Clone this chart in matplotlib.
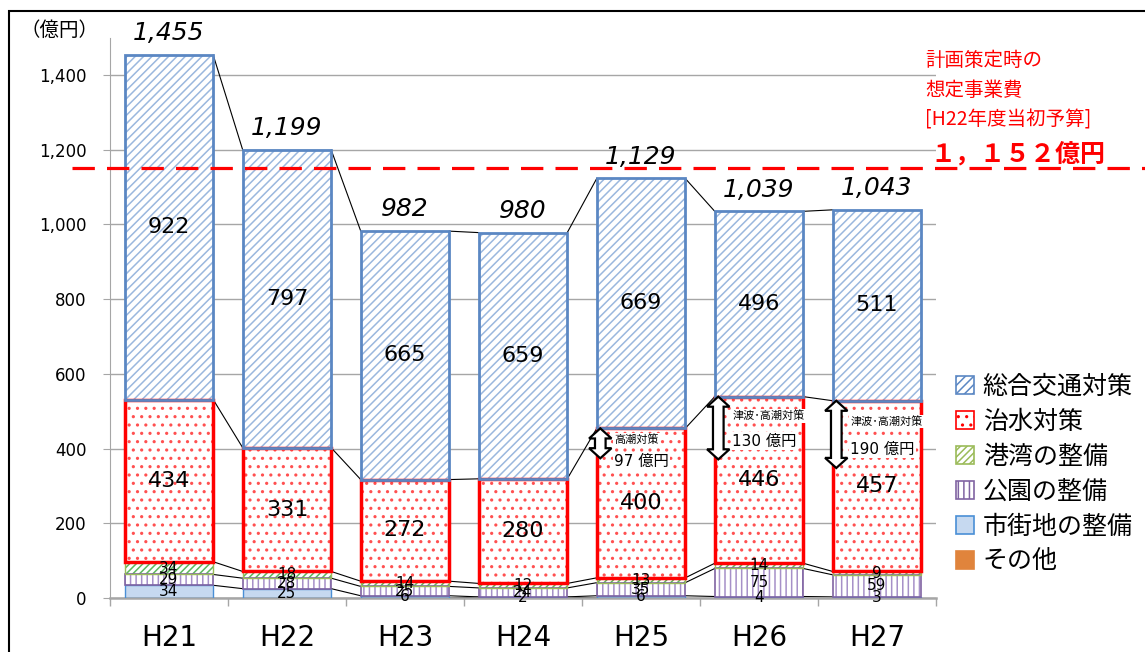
import numpy as np
import matplotlib.pyplot as plt
import matplotlib.transforms as mtransforms
from matplotlib.patches import Patch, Rectangle, Polygon
from matplotlib.lines import Line2D

plt.rcParams['font.family'] = ['DejaVu Sans', 'Noto Sans CJK JP']
plt.rcParams['hatch.linewidth'] = 1.1

# ---- data (億円) ----
years = ['H21', 'H22', 'H23', 'H24', 'H25', 'H26', 'H27']
sonota = [0, 0, 0, 2, 0, 0, 0]            # その他
shigaichi = [34, 25, 6, 1, 6, 4, 3]       # 市街地の整備
koen = [29, 28, 25, 24, 35, 75, 59]       # 公園の整備
kowan = [34, 18, 14, 12, 13, 14, 9]       # 港湾の整備
chisui = [434, 331, 272, 280, 400, 446, 457]  # 治水対策
sogo = [922, 797, 665, 659, 669, 496, 511]    # 総合交通対策
totals = ['1,455', '1,199', '982', '980', '1,129', '1,039', '1,043']
plan_value = 1152

# 高潮対策 arrows (bar index, arrow length, texts)
arrow_idx = [4, 5, 6]
arrow_len = [80, 168, 180]
arrow_name = ['高潮対策', '津波･高潮対策', '津波･高潮対策']
arrow_amount = ['97 億円', '130 億円', '190 億円']

series = [
    # name, values, face, hatch, hatch colour, edge colour, edge width
    ('その他', sonota, '#e0843c', None, '#e0843c', '#e0843c', 0),
    ('市街地の整備', shigaichi, '#c6d9f0', None, '#c6d9f0', '#4a8fd6', 1.0),
    ('公園の整備', koen, 'white', '|||', '#a690c8', '#8064a2', 1.2),
    ('港湾の整備', kowan, 'white', '/////', '#5cb85c', '#9bbb59', 1.0),
    ('治水対策', chisui, 'white', '..', '#ff5050', '#ff0000', 2.5),
    ('総合交通対策', sogo, 'white', '////', '#9ab7de', '#5b87c3', 2.0),
]

fig = plt.figure(figsize=(11.45, 6.52), dpi=100)
ax = fig.add_axes([110 / 1145, 54 / 652, 826 / 1145, 560.4 / 652])

x = np.arange(len(years))
w = 0.75
bottom = np.zeros(len(years))
levels = []
for name, vals, face, hatch, hcol, ecol, lw in series:
    vals = np.array(vals, dtype=float)
    ax.bar(x, vals, w, bottom=bottom, color=face, hatch=hatch,
           edgecolor=hcol, linewidth=0, zorder=2)
    if lw > 0:
        ax.bar(x, vals, w, bottom=bottom, fill=False, edgecolor=ecol,
               linewidth=lw, zorder=3)
    big = name in ('治水対策', '総合交通対策')
    for i, v in enumerate(vals):
        if v < 2:
            continue
        ax.text(x[i], bottom[i] + v / 2, '{:d}'.format(int(v)),
                ha='center', va='center', fontsize=16 if big else 11,
                color='black', zorder=6)
    bottom = bottom + vals
    levels.append(bottom.copy())

# series lines between bars
for lev in levels:
    for i in range(len(years) - 1):
        ax.plot([x[i] + w / 2, x[i + 1] - w / 2], [lev[i], lev[i + 1]],
                color='black', lw=0.8, zorder=1.5)

# totals
for i, t in enumerate(totals):
    ax.annotate(t, (x[i], bottom[i]), xytext=(0, 7), textcoords='offset points',
                ha='center', va='bottom', fontsize=18, style='italic', zorder=6)

# arrows for 高潮対策
text_off = [(8, 24), (14, 32), (15, 35)]
for k, i in enumerate(arrow_idx):
    top = levels[4][i]
    bot = top - arrow_len[k]
    cx = x[i] - w / 2 + 0.03
    hw, sw, hl = 0.095, 0.045, 27
    pts = [(cx, top), (cx + hw, top - hl), (cx + sw, top - hl), (cx + sw, bot + hl),
           (cx + hw, bot + hl), (cx, bot), (cx - hw, bot + hl), (cx - sw, bot + hl),
           (cx - sw, top - hl), (cx - hw, top - hl)]
    ax.add_patch(Polygon(pts, closed=True, facecolor='white', edgecolor='black',
                         lw=1.6, zorder=5))
    o1, o2 = text_off[k]
    ax.annotate(arrow_name[k], (cx, top), xytext=(10, -o1), textcoords='offset points',
                ha='left', va='center', fontsize=8, zorder=6,
                bbox=dict(facecolor='white', edgecolor='none', pad=1))
    ax.annotate(arrow_amount[k], (cx, top), xytext=(10, -o2), textcoords='offset points',
                ha='left', va='center', fontsize=11, zorder=6,
                bbox=dict(facecolor='white', edgecolor='none', pad=1))

ax.set_xlim(-0.5, len(years) - 0.5)
ax.set_ylim(0, 1500)
ax.set_yticks(np.arange(0, 1401, 200))
ax.set_yticklabels(['{:,}'.format(v) for v in range(0, 1401, 200)], fontsize=12)
ax.set_xticks(x)
ax.set_xticklabels(years, fontsize=20)
ax.set_xticks(np.arange(-0.5, len(years), 1), minor=True)
ax.tick_params(axis='x', which='major', length=0, pad=19)
ax.tick_params(axis='x', which='minor', length=6, color='#a6a6a6', width=1)
ax.tick_params(axis='y', length=5, color='#a6a6a6', pad=12)
ax.yaxis.grid(True, color='#a6a6a6', lw=1)
ax.set_axisbelow(True)
for s in ['top', 'right']:
    ax.spines[s].set_visible(False)
ax.spines['left'].set_color('#a6a6a6')
ax.spines['bottom'].set_color('#a6a6a6')
ax.spines['bottom'].set_linewidth(1.8)

# planned budget line
trans = mtransforms.blended_transform_factory(fig.transFigure, ax.transData)
fig.add_artist(Line2D([72 / 1145, 1.0], [plan_value, plan_value], transform=trans,
                      color='#ff0000', lw=2.3, dashes=(7, 3.8), zorder=4))

fig.text(925 / 1145, 1 - 60 / 652, '計画策定時の', color='#ff0000', fontsize=14,
         va='center', family=['Noto Sans CJK JP'])
fig.text(925 / 1145, 1 - 90 / 652, '想定事業費', color='#ff0000', fontsize=14,
         va='center', family=['Noto Sans CJK JP'])
fig.text(925 / 1145, 1 - 120 / 652, '[H22年度当初予算]', color='#ff0000', fontsize=14,
         va='center', family=['Noto Sans CJK JP'])
fig.text(930 / 1145, 1 - 154 / 652, '１，１５２億円', color='#ff0000', fontsize=18,
         fontweight='bold', va='center', family=['Noto Sans CJK JP'])

fig.text(59 / 1145, 1 - 30 / 652, '（億円）', fontsize=14, ha='center', va='center',
         family=['Noto Sans CJK JP'])

# legend
handles = []
for name, vals, face, hatch, hcol, ecol, lw in series[::-1]:
    handles.append(Patch(facecolor=face, hatch=hatch, edgecolor=ecol if lw > 0 else face,
                         linewidth=1.2, label=name))
fig.legend(handles=handles, loc='upper left', bbox_to_anchor=(934 / 1145, 1 - 351 / 652),
           frameon=False, prop={'family': ['Noto Sans CJK JP'], 'size': 18},
           handlelength=0.7, handleheight=0.7, handletextpad=0.35, labelspacing=0.36)

# outer frame
fig.add_artist(Rectangle((9 / 1145, -0.1), 1.2, 1.1 - 11 / 652, fill=False,
                         edgecolor='black', lw=1.5, transform=fig.transFigure))

fig.savefig('out.png', dpi=100)
